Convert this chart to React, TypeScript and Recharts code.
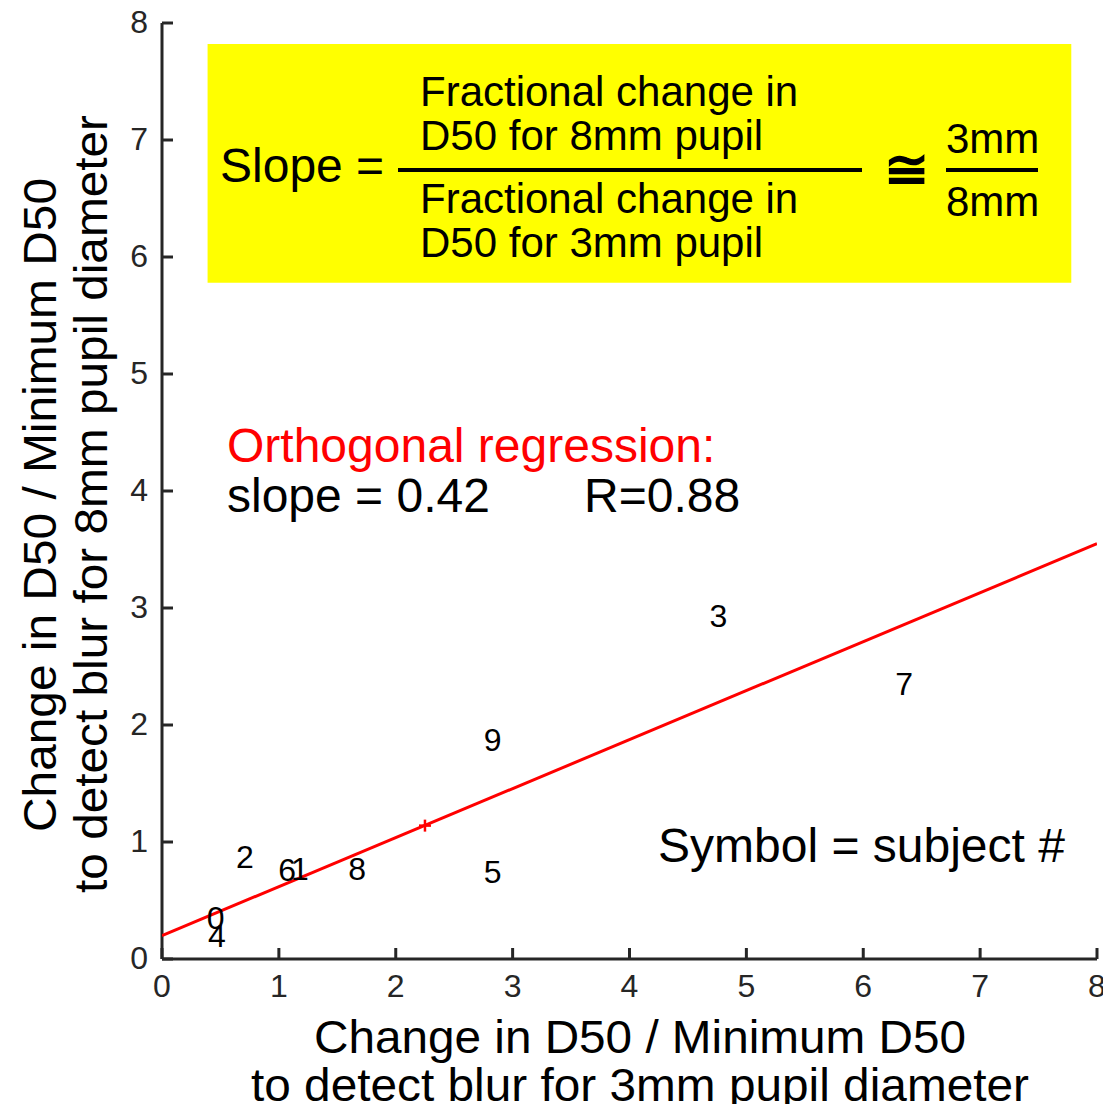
import React from 'react';
import {
	ScatterChart,
	Scatter,
	XAxis,
	YAxis,
	ReferenceArea,
} from 'recharts';

// subject numbers and their (3mm, 8mm) values
const subjects = ['0', '1', '2', '3', '4', '5', '6', '7', '8', '9'];
const xValues = [0.46, 1.18, 0.71, 4.76, 0.47, 2.83, 1.07, 6.35, 1.67, 2.83];
const yValues = [0.35, 0.77, 0.87, 2.93, 0.2, 0.74, 0.76, 2.35, 0.77, 1.87];

// orthogonal regression line end points and centroid
const fitX = [0, 8];
const fitY = [0.2, 3.55];
const centroidX = [2.25];
const centroidY = [1.14];

const xTicks = [0, 1, 2, 3, 4, 5, 6, 7, 8];
const yTicks = [0, 1, 2, 3, 4, 5, 6, 7, 8];

// yellow formula box, in data units
const boxX = [0.39, 7.78];
const boxY = [5.78, 7.82];

const FONT = '"Liberation Sans", Arial, Helvetica, sans-serif';
const AXIS = '#262626';

const points = subjects.map((s, i) => ({ x: xValues[i], y: yValues[i], label: s }));
const fitLine = fitX.map((x, i) => ({ x, y: fitY[i] }));
const centroid = centroidX.map((x, i) => ({ x, y: centroidY[i] }));

const XTick = (props: any) => {
	const { x, y, payload } = props;
	return (
		<g>
			<line x1={x} x2={x} y1={y} y2={y - 11} stroke={AXIS} strokeWidth={3} />
			<text x={x} y={y + 38} textAnchor='middle' fontSize={32} fill={AXIS} fontFamily={FONT}>
				{payload.value}
			</text>
		</g>
	);
};

const YTick = (props: any) => {
	const { x, y, payload } = props;
	return (
		<g>
			<line x1={x} x2={x + 11} y1={y} y2={y} stroke={AXIS} strokeWidth={3} />
			<text x={x - 14} y={y + 10} textAnchor='end' fontSize={32} fill={AXIS} fontFamily={FONT}>
				{payload.value}
			</text>
		</g>
	);
};

const SubjectLabel = (props: any) => {
	const { cx, cy, payload } = props;
	return (
		<text x={cx} y={cy} textAnchor='middle' dominantBaseline='central' fontSize={32} fill='#000' fontFamily={FONT}>
			{payload.label}
		</text>
	);
};

const Plus = (props: any) => {
	const { cx, cy } = props;
	return (
		<g stroke='#ff0000' strokeWidth={2.5}>
			<line x1={cx - 6} x2={cx + 6} y1={cy} y2={cy} />
			<line x1={cx} x2={cx} y1={cy - 6} y2={cy + 6} />
		</g>
	);
};

const Overlay = () => (
	<svg
		width={1111}
		height={1112}
		style={{ position: 'absolute', left: 0, top: 0, pointerEvents: 'none' }}
		fontFamily={FONT}
	>
		{/* formula */}
		<text x={220} y={182} fontSize={48}>Slope =</text>
		<text x={420} y={106} fontSize={42}>Fractional change in</text>
		<text x={420} y={150} fontSize={42}>D50 for 8mm pupil</text>
		<line x1={398} x2={862} y1={170} y2={170} stroke='#000' strokeWidth={4} />
		<text x={420} y={213} fontSize={42}>Fractional change in</text>
		<text x={420} y={257} fontSize={42}>D50 for 3mm pupil</text>
		<text x={906} y={188} fontSize={54} fontWeight='bold' textAnchor='middle'>≅</text>
		<text x={946} y={153} fontSize={42}>3mm</text>
		<line x1={946} x2={1038} y1={170} y2={170} stroke='#000' strokeWidth={4} />
		<text x={946} y={216} fontSize={42}>8mm</text>

		{/* regression text */}
		<text x={227} y={462} fontSize={48} fill='#ff0000'>Orthogonal regression:</text>
		<text x={227} y={512} fontSize={48}>slope = 0.42</text>
		<text x={584} y={512} fontSize={48}>R=0.88</text>
		<text x={658} y={862} fontSize={48}>Symbol = subject #</text>

		{/* axis titles */}
		<text x={640} y={1053} fontSize={46} textAnchor='middle' textLength={652} lengthAdjust='spacingAndGlyphs'>
			Change in D50 / Minimum D50
		</text>
		<text x={640} y={1101} fontSize={46} textAnchor='middle' textLength={778} lengthAdjust='spacingAndGlyphs'>
			to detect blur for 3mm pupil diameter
		</text>
		<text
			transform='translate(56,505) rotate(-90)'
			fontSize={47}
			textAnchor='middle'
			textLength={654}
			lengthAdjust='spacingAndGlyphs'
		>
			Change in D50 / Minimum D50
		</text>
		<text
			transform='translate(107,504) rotate(-90)'
			fontSize={47}
			textAnchor='middle'
			textLength={778}
			lengthAdjust='spacingAndGlyphs'
		>
			to detect blur for 8mm pupil diameter
		</text>
	</svg>
);

export default function App() {
	return (
		<div style={{ position: 'relative', width: 1111, height: 1112, margin: -8, background: '#fff' }}>
			<ScatterChart width={1111} height={1112} margin={{ top: 23, right: 14, bottom: 123, left: 102 }}>
				<XAxis
					type='number'
					dataKey='x'
					domain={[0, 8]}
					ticks={xTicks}
					interval={0}
					allowDataOverflow
					height={30}
					tickSize={0}
					tickMargin={0}
					tickLine={false}
					axisLine={{ stroke: AXIS, strokeWidth: 3 }}
					tick={<XTick />}
				/>
				<YAxis
					type='number'
					dataKey='y'
					domain={[0, 8]}
					ticks={yTicks}
					interval={0}
					allowDataOverflow
					width={60}
					tickSize={0}
					tickMargin={0}
					tickLine={false}
					axisLine={{ stroke: AXIS, strokeWidth: 3 }}
					tick={<YTick />}
				/>
				<ReferenceArea
					x1={boxX[0]}
					x2={boxX[1]}
					y1={boxY[0]}
					y2={boxY[1]}
					fill='#ffff00'
					fillOpacity={1}
					stroke='none'
				/>
				<Scatter
					data={fitLine}
					line={{ stroke: '#ff0000', strokeWidth: 3 }}
					shape={() => <g />}
					isAnimationActive={false}
				/>
				<Scatter data={centroid} shape={<Plus />} isAnimationActive={false} />
				<Scatter data={points} shape={<SubjectLabel />} isAnimationActive={false} />
			</ScatterChart>
			<Overlay />
		</div>
	);
}
